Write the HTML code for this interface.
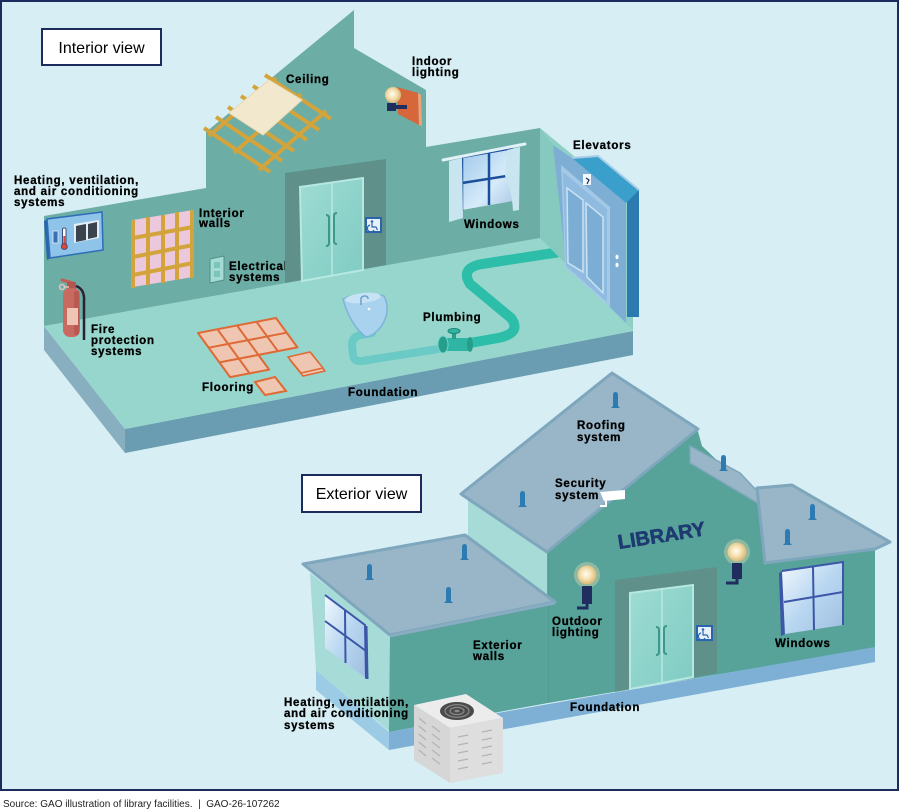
<!DOCTYPE html>
<html><head><meta charset="utf-8">
<style>
html,body{margin:0;padding:0;background:#fff;}
svg{display:block;}
.l{font-family:"Liberation Sans",Arial,sans-serif;font-weight:bold;font-size:11.5px;letter-spacing:0.75px;fill:#000;stroke:#000;stroke-width:0.3px;}
</style></head>
<body>
<svg width="900" height="811" viewBox="0 0 900 811" xmlns="http://www.w3.org/2000/svg">
<defs>
<linearGradient id="glass" x1="0" y1="0" x2="1" y2="1">
<stop offset="0" stop-color="#9cc6ea"/><stop offset="0.6" stop-color="#d6ebfa"/><stop offset="1" stop-color="#a9c7e4"/></linearGradient>
<linearGradient id="glass2" x1="0" y1="0" x2="1" y2="1">
<stop offset="0" stop-color="#f2f8fd"/><stop offset="0.5" stop-color="#b9d7f1"/><stop offset="1" stop-color="#9fbfe0"/></linearGradient>
<linearGradient id="door" x1="0" y1="0" x2="1" y2="1">
<stop offset="0" stop-color="#9edcd3"/><stop offset="1" stop-color="#7fcbc3"/></linearGradient>
<radialGradient id="bulb" cx="0.45" cy="0.45" r="0.55">
<stop offset="0" stop-color="#fffdf2"/><stop offset="0.5" stop-color="#f6e2b2"/><stop offset="1" stop-color="#d8b878"/></radialGradient>
</defs>
<rect x="0" y="0" width="900" height="811" fill="#fff"/>
<rect x="1" y="1" width="897" height="789" fill="#d6eef4" stroke="#1d2b5c" stroke-width="2"/>

<!-- ================= INTERIOR ================= -->
<rect x="42" y="29" width="119" height="36" fill="#fff" stroke="#1d2b5c" stroke-width="2"/>
<text x="101.5" y="53" text-anchor="middle" font-family="Liberation Sans, Arial, sans-serif" font-size="16" fill="#000">Interior view</text>

<!-- slab -->
<polygon points="44,326 125,429 125,453 44,350" fill="#87afc0"/>
<polygon points="125,429 633,331 633,355 125,453" fill="#6a9db1"/>
<polygon points="44,326 540,238 633,331 125,429" fill="#97d6cc"/>
<!-- back wall -->
<polygon points="44,216 206,188 206,132 354,10 354,48 426,90 426,147 540,128 540,238 44,326" fill="#6cada5"/>

<!-- ceiling lattice -->
<g stroke="#d3a43b" stroke-width="4" stroke-linecap="butt">
<line x1="204" y1="128" x2="270" y2="172"/>
<line x1="216" y1="117" x2="282" y2="161"/>
<line x1="228" y1="107" x2="294" y2="151"/>
<line x1="241" y1="96" x2="307" y2="140"/>
<line x1="253" y1="86" x2="319" y2="130"/>
<line x1="265" y1="75" x2="331" y2="119"/>
<line x1="209" y1="136" x2="276" y2="78"/>
<line x1="234" y1="153" x2="301" y2="94"/>
<line x1="259" y1="170" x2="326" y2="111"/>
</g>
<polygon points="229,113 269,80 302,100 263,135" fill="#f2e8cd" stroke="#e6dab8" stroke-width="1"/>
<text class="l" x="286" y="83">Ceiling</text>

<!-- indoor lighting -->
<polygon points="397,87 418,93 419,125 398,114" fill="#d6673a"/>
<polygon points="418,93 421,95 422,126 419,125" fill="#efa27a"/>
<circle cx="393" cy="95" r="8" fill="url(#bulb)"/>
<rect x="387" y="103" width="9" height="8" fill="#1f2e5e"/>
<rect x="392" y="105" width="15" height="4" fill="#1f2e5e"/>
<text class="l" x="412" y="65">Indoor</text>
<text class="l" x="412" y="76">lighting</text>

<!-- HVAC thermostat -->
<polygon points="44,221 48,219 51,258 47,260" fill="#2a64ae"/>
<polygon points="47,219 102,212 103,250 50,258" fill="#8ec3ea" stroke="#2d6db8" stroke-width="1.5"/>
<polygon points="74,224 99,220 99,238 74,243" fill="#e4eef6"/>
<polygon points="76,226 86,224 86,240 76,242" fill="#3a434e"/>
<polygon points="88,224 97,222 97,237 88,239" fill="#3a434e"/>
<rect x="53" y="231" width="5" height="12" fill="#3a6fb5" stroke="#dfeefa" stroke-width="0.8"/>
<rect x="62.5" y="228" width="3.5" height="17" rx="1.5" fill="#fff" stroke="#1d2b5c" stroke-width="0.8"/>
<rect x="63.3" y="236" width="2" height="9" fill="#d24a3e"/>
<circle cx="64.3" cy="246.5" r="3" fill="#d24a3e" stroke="#1d2b5c" stroke-width="0.6"/>
<text class="l" x="14" y="184">Heating, ventilation,</text>
<text class="l" x="14" y="195">and air conditioning</text>
<text class="l" x="14" y="206">systems</text>

<!-- interior walls studs -->
<polygon points="133,220 193,210 193,277 133,287" fill="#ecc8dc"/>
<g stroke="#d3a43b" stroke-width="4">
<line x1="133" y1="220" x2="133" y2="288"/>
<line x1="148" y1="217" x2="148" y2="285"/>
<line x1="163" y1="215" x2="163" y2="283"/>
<line x1="177" y1="212" x2="177" y2="280"/>
<line x1="192" y1="210" x2="192" y2="278"/>
<line x1="133" y1="238" x2="193" y2="227"/>
<line x1="133" y1="257" x2="193" y2="245"/>
<line x1="133" y1="275" x2="193" y2="263"/>
</g>
<text class="l" x="199" y="217">Interior</text>
<text class="l" x="199" y="227">walls</text>

<!-- outlet -->
<polygon points="210,259 224,256 224,280 210,283" fill="#a4dcd3" stroke="#4f8f88" stroke-width="1"/>
<rect x="214" y="262" width="6" height="6" fill="#7cc4b9"/>
<rect x="214" y="271" width="6" height="6" fill="#7cc4b9"/>
<text class="l" x="229" y="270">Electrical</text>
<text class="l" x="229" y="281">systems</text>

<!-- door interior -->
<polygon points="285,173 386,159 386,265 285,283" fill="#5f9089"/>
<polygon points="300,187 363,178 363,270 302,281" fill="url(#door)" stroke="#b6e8e1" stroke-width="2"/>
<line x1="332" y1="183" x2="332" y2="276" stroke="#b6e8e1" stroke-width="1.5"/>
<path d="M326,215 q3,0 3,3 v25 q0,3 -3,3" fill="none" stroke="#3f968a" stroke-width="2"/>
<path d="M337,213 q-3,0 -3,3 v25 q0,3 3,3" fill="none" stroke="#3f968a" stroke-width="2"/>
<rect x="365" y="217" width="17" height="16" fill="#2a64ae"/>
<rect x="367" y="219" width="13" height="12" fill="#e6f1fa"/>
<circle cx="372" cy="221.5" r="1.3" fill="#2a64ae"/>
<path d="M372,223 v4 h4 l1.5,3 M370,225 a3.5,3.5 0 1 0 4,5" fill="none" stroke="#2a64ae" stroke-width="1.2"/>

<!-- window interior -->
<polygon points="462,157 513,148 513,201 462,210" fill="url(#glass)"/>
<g stroke="#1b4f9a" stroke-width="2.5" fill="none">
<polyline points="462,211 462,157 513,148"/>
<line x1="489" y1="152" x2="489" y2="205"/>
<line x1="462" y1="183" x2="513" y2="175"/>
</g>
<polygon points="449,161 462,158 463,218 449,222" fill="#c9e5ef"/>
<path d="M507,150 L520,147 L519,210 L513,211 Q512,190 505,176 Z" fill="#c9e5ef"/>
<line x1="443" y1="160" x2="525" y2="144" stroke="#e2f1f7" stroke-width="3" stroke-linecap="round"/>
<text class="l" x="464" y="228">Windows</text>

<!-- fire extinguisher -->
<path d="M62,280 L73,283" stroke="#c35f55" stroke-width="3" stroke-linecap="round"/>
<rect x="67" y="282" width="9" height="8" fill="#b5564e"/>
<circle cx="62" cy="287" r="2.5" fill="none" stroke="#e6c4bd" stroke-width="1.5"/>
<line x1="64" y1="287" x2="69" y2="287" stroke="#e6c4bd" stroke-width="1.5"/>
<rect x="63" y="288" width="17" height="49" rx="7" fill="#c96a60"/>
<rect x="74" y="291" width="5" height="44" rx="2" fill="#b85a51"/>
<rect x="67" y="308" width="11" height="17" fill="#efc6b6"/>
<path d="M76,286 Q85,289 84,302 L84,340" fill="none" stroke="#2d1f35" stroke-width="2.5"/>
<text class="l" x="91" y="333">Fire</text>
<text class="l" x="91" y="344">protection</text>
<text class="l" x="91" y="355">systems</text>

<!-- flooring tiles -->
<polygon points="198,333 276,318 297.4,347.4 258.4,354.9 269.1,369.6 230.1,377.1" fill="#efc6b2" stroke="#de6a35" stroke-width="2" stroke-linejoin="round"/>
<g stroke="#de6a35" stroke-width="2" fill="none">
<line x1="217.5" y1="329.3" x2="249.6" y2="373.4"/>
<line x1="237" y1="325.5" x2="258.4" y2="354.9"/>
<line x1="256.5" y1="321.8" x2="277.9" y2="351.2"/>
<line x1="208.7" y1="347.7" x2="286.7" y2="332.7"/>
<line x1="219.4" y1="362.4" x2="258.4" y2="354.9"/>
</g>
<polygon points="290,360 312,354 325,371 303,376" fill="#efc6b2" stroke="#de6a35" stroke-width="1.5"/>
<polygon points="288,357 310,352 323,368 301,373" fill="#efc6b2" stroke="#de6a35" stroke-width="1.5"/>
<polygon points="255,382 275,377 286,391 265,395" fill="#efc6b2" stroke="#de6a35" stroke-width="2"/>
<text class="l" x="202" y="391">Flooring</text>

<!-- sink and light pipe -->
<path d="M372,333 L360,335 Q352,337 352,345 L353,355 Q354,362 362,361 L438,349" fill="none" stroke="#6ccac6" stroke-width="8" stroke-linecap="round"/>
<path d="M343,299 Q362,290 384,296 Q392,312 380,328 Q373,336 366,337 Q350,325 343,299 Z" fill="#a9d2ee" stroke="#7db4da" stroke-width="1.5"/>
<ellipse cx="363" cy="298" rx="18" ry="5" transform="rotate(-6 363 298)" fill="#c6e2f5"/>
<path d="M361,305 v-6 q0,-3 4,-3 q3,0 3,3" fill="none" stroke="#6f9fc7" stroke-width="1.5"/>
<circle cx="369" cy="309" r="1.3" fill="#fff"/>

<!-- plumbing main pipe -->
<path d="M560,252 L482,264 Q460,268 470,284 L511,318 Q522,333 498,338 L470,343" fill="none" stroke="#2cbea8" stroke-width="10" stroke-linecap="butt"/>
<rect x="443" y="338" width="27" height="13" fill="#2fb5a3"/>
<ellipse cx="443" cy="344.5" rx="5" ry="8.5" fill="#279d8c" stroke="#6fd6c8" stroke-width="1"/>
<ellipse cx="470" cy="344.5" rx="3" ry="7.5" fill="#279d8c"/>
<rect x="452" y="332" width="4" height="7" fill="#279d8c"/>
<ellipse cx="454" cy="331" rx="6" ry="2.5" fill="#2fb5a3" stroke="#1d8373" stroke-width="1"/>
<text class="l" x="423" y="321">Plumbing</text>
<text class="l" x="348" y="396">Foundation</text>

<!-- right wall -->
<polygon points="540,128 633,205 633,331 540,238" fill="#8fd0c6"/>
<polygon points="540,128 553,145 566,264 540,238" fill="#86c9bf"/>

<!-- elevator -->
<polygon points="627,194 639,190 639,317 627,317" fill="#2c7bb0"/>
<polygon points="572,158 598,156 639,190 626,203" fill="#3b9fcb"/>
<polyline points="572,158 598,156 639,190" fill="none" stroke="#a5cde8" stroke-width="2"/>
<polygon points="553,145 572,158 626,203 626,323 566,264" fill="#7eaed4"/>
<polygon points="561,165 610,207 610,307 565,267" fill="#a4c9e6"/>
<polygon points="563,172 607,209 607,302 566,266" fill="#8fbbe0"/>
<polygon points="567,188 583,200 583,272 568,263" fill="#7cadd5" stroke="#cbe2f3" stroke-width="1.5"/>
<polygon points="586,203 603,217 603,293 587,277" fill="#7cadd5" stroke="#cbe2f3" stroke-width="1.5"/>
<rect x="583" y="174" width="8" height="11" fill="#f2f8fc"/>
<path d="M586,178 l3,2 -2,4" fill="none" stroke="#1d2b5c" stroke-width="1.2"/>
<ellipse cx="617" cy="257" rx="1.5" ry="2.2" fill="#fff"/>
<ellipse cx="617" cy="265" rx="1.5" ry="2.2" fill="#fff"/>
<text class="l" x="573" y="149">Elevators</text>

<!-- ================= EXTERIOR ================= -->
<rect x="302" y="475" width="119" height="37" fill="#fff" stroke="#1d2b5c" stroke-width="2"/>
<text x="361.5" y="499" text-anchor="middle" font-family="Liberation Sans, Arial, sans-serif" font-size="16" fill="#000">Exterior view</text>

<!-- main gable side wall -->
<polygon points="468,500 548,552 548,612 468,560" fill="#a6dbd7"/>
<!-- main front wall -->
<polygon points="548,552 697,428 702,446 767,508 767,563 875,548 875,648 548,703" fill="#57a39a"/>
<line x1="548" y1="552" x2="548" y2="703" stroke="#4f998f" stroke-width="1.5"/>
<!-- front foundation -->
<polygon points="389,732 875,647 875,662 389,750" fill="#7eb0d6"/>
<!-- left wing -->
<polygon points="310,573 390,635 390,732 316,670" fill="#a6dbd7"/>
<polygon points="316,670 389,732 389,750 316,690" fill="#9ccbe5"/>
<polygon points="390,635 548,600 548,703 389,732" fill="#58a39a"/>
<!-- left wing window -->
<polygon points="325,595 365,625 366,678 325,648" fill="url(#glass2)"/>
<g stroke="#3c56a8" stroke-width="2" fill="none">
<polyline points="325,595 365,625 366,678"/>
<line x1="345" y1="610" x2="345.5" y2="663"/>
<line x1="325" y1="621" x2="366" y2="651"/>
</g>
<line x1="366" y1="626" x2="367" y2="679" stroke="#3c56a8" stroke-width="3"/>

<!-- left wing roof -->
<polygon points="303,564 465,535 555,602 390,635" fill="#98b6c8" stroke="#7ea6bc" stroke-width="3" stroke-linejoin="round"/>
<line x1="390" y1="636" x2="555" y2="603" stroke="#88acc1" stroke-width="3"/>
<!-- main roof -->
<polygon points="461,494 612,373 698,429 547,552" fill="#98b6c8" stroke="#7ea6bc" stroke-width="3" stroke-linejoin="round"/>
<!-- right slope strip -->
<polygon points="690,446 740,473 773,508 766,508 690,463" fill="#98b6c8" stroke="#7ea6bc" stroke-width="1.5"/>
<!-- right wing roof -->
<polygon points="757,488 792,485 890,542 875,549 765,563" fill="#98b6c8" stroke="#7ea6bc" stroke-width="3" stroke-linejoin="round"/>

<!-- vents -->
<g fill="#2c7bb1">
<path d="M611,408 h9 l-2,-2 v-11 q0,-3 -2.5,-3 q-2.5,0 -2.5,3 v11 z"/>
<path d="M518,507 h9 l-2,-2 v-11 q0,-3 -2.5,-3 q-2.5,0 -2.5,3 v11 z"/>
<path d="M719,471 h9 l-2,-2 v-11 q0,-3 -2.5,-3 q-2.5,0 -2.5,3 v11 z"/>
<path d="M808,520 h9 l-2,-2 v-11 q0,-3 -2.5,-3 q-2.5,0 -2.5,3 v11 z"/>
<path d="M783,545 h9 l-2,-2 v-11 q0,-3 -2.5,-3 q-2.5,0 -2.5,3 v11 z"/>
<path d="M365,580 h9 l-2,-2 v-11 q0,-3 -2.5,-3 q-2.5,0 -2.5,3 v11 z"/>
<path d="M460,560 h9 l-2,-2 v-11 q0,-3 -2.5,-3 q-2.5,0 -2.5,3 v11 z"/>
<path d="M444,603 h9 l-2,-2 v-11 q0,-3 -2.5,-3 q-2.5,0 -2.5,3 v11 z"/>
</g>

<!-- LIBRARY -->
<text x="619" y="549" transform="rotate(-9 619 549)" font-family="Liberation Sans, Arial, sans-serif" font-weight="bold" font-size="20" fill="#1e3a70" stroke="#1e3a70" stroke-width="0.6">LIBRARY</text>

<!-- security camera -->
<polygon points="600,492 625,490 625,499 604,501" fill="#fff"/>
<path d="M606,501 v5 h-6" fill="none" stroke="#fff" stroke-width="2"/>
<text class="l" x="555" y="487">Security</text>
<text class="l" x="555" y="499">system</text>
<text class="l" x="577" y="429">Roofing</text>
<text class="l" x="577" y="441">system</text>

<!-- lamps -->
<circle cx="587" cy="575" r="13" fill="#f6e6b8" opacity="0.35"/>
<circle cx="587" cy="575" r="9.5" fill="url(#bulb)"/>
<rect x="582" y="586" width="10" height="18" fill="#1f2e5e"/>
<path d="M587,604 v4 h-10" fill="none" stroke="#1f2e5e" stroke-width="3"/>
<circle cx="737" cy="552" r="13" fill="#f6e6b8" opacity="0.35"/>
<circle cx="737" cy="552" r="9.5" fill="url(#bulb)"/>
<rect x="732" y="563" width="10" height="16" fill="#1f2e5e"/>
<path d="M737,579 v4 h-11" fill="none" stroke="#1f2e5e" stroke-width="3"/>
<text class="l" x="552" y="625">Outdoor</text>
<text class="l" x="552" y="636">lighting</text>

<!-- door exterior -->
<polygon points="615,580 717,567 717,673 615,692" fill="#5f9089"/>
<polygon points="630,593 693,585 693,677 630,689" fill="url(#door)" stroke="#b6e8e1" stroke-width="2"/>
<line x1="662" y1="589" x2="662" y2="683" stroke="#b6e8e1" stroke-width="1.5"/>
<path d="M656,627 q3,0 3,3 v22 q0,3 -3,3" fill="none" stroke="#3f968a" stroke-width="2"/>
<path d="M667,626 q-3,0 -3,3 v22 q0,3 3,3" fill="none" stroke="#3f968a" stroke-width="2"/>
<rect x="696" y="625" width="17" height="16" fill="#2a64ae"/>
<rect x="698" y="627" width="13" height="12" fill="#e6f1fa"/>
<circle cx="703" cy="629.5" r="1.3" fill="#2a64ae"/>
<path d="M703,631 v4 h4 l1.5,3 M701,633 a3.5,3.5 0 1 0 4,5" fill="none" stroke="#2a64ae" stroke-width="1.2"/>

<!-- right wing window -->
<polygon points="779,573 782,571 785,634 781,636" fill="#3c56a8"/>
<polygon points="782,571 843,562 843,625 785,634" fill="url(#glass2)"/>
<g stroke="#3c56a8" stroke-width="2" fill="none">
<polyline points="782,571 843,562 843,625"/>
<line x1="813" y1="567" x2="814" y2="630"/>
<line x1="784" y1="602" x2="843" y2="592"/>
</g>
<text class="l" x="775" y="647">Windows</text>
<text class="l" x="473" y="649">Exterior</text>
<text class="l" x="473" y="660">walls</text>
<text class="l" x="570" y="711">Foundation</text>

<!-- AC unit -->
<polygon points="414,705 450,728 450,783 414,760" fill="#d6d6d6"/>
<polygon points="450,728 503,718 503,773 450,783" fill="#dedede"/>
<polygon points="414,705 466,694 503,718 450,728" fill="#ececec"/>
<ellipse cx="457" cy="711" rx="17" ry="9" fill="#4a4a4a"/>
<ellipse cx="457" cy="711" rx="12" ry="6.3" fill="none" stroke="#8a8a8a" stroke-width="1.2"/>
<ellipse cx="457" cy="711" rx="7" ry="3.6" fill="none" stroke="#8a8a8a" stroke-width="1.2"/>
<ellipse cx="457" cy="711" rx="2.5" ry="1.3" fill="#8a8a8a"/>
<g stroke="#b3b3b3" stroke-width="1.2">
<line x1="419" y1="718" x2="426" y2="724"/><line x1="419" y1="726" x2="426" y2="732"/>
<line x1="419" y1="734" x2="426" y2="740"/><line x1="419" y1="742" x2="426" y2="748"/>
<line x1="419" y1="750" x2="426" y2="756"/>
<line x1="432" y1="726" x2="440" y2="732"/><line x1="432" y1="734" x2="440" y2="740"/>
<line x1="432" y1="742" x2="440" y2="748"/><line x1="432" y1="750" x2="440" y2="756"/>
<line x1="432" y1="758" x2="440" y2="764"/>
<line x1="458" y1="737" x2="468" y2="735"/><line x1="458" y1="745" x2="468" y2="743"/>
<line x1="458" y1="753" x2="468" y2="751"/><line x1="458" y1="761" x2="468" y2="759"/>
<line x1="458" y1="769" x2="468" y2="767"/>
<line x1="482" y1="732" x2="492" y2="730"/><line x1="482" y1="740" x2="492" y2="738"/>
<line x1="482" y1="748" x2="492" y2="746"/><line x1="482" y1="756" x2="492" y2="754"/>
<line x1="482" y1="764" x2="492" y2="762"/>
</g>
<text class="l" x="284" y="706">Heating, ventilation,</text>
<text class="l" x="284" y="717">and air conditioning</text>
<text class="l" x="284" y="729">systems</text>

<!-- source -->
<text x="3" y="807" font-family="Liberation Sans, Arial, sans-serif" font-size="10" fill="#222" xml:space="preserve">Source: GAO illustration of library facilities.  |  GAO-26-107262</text>
</svg>
</body></html>
